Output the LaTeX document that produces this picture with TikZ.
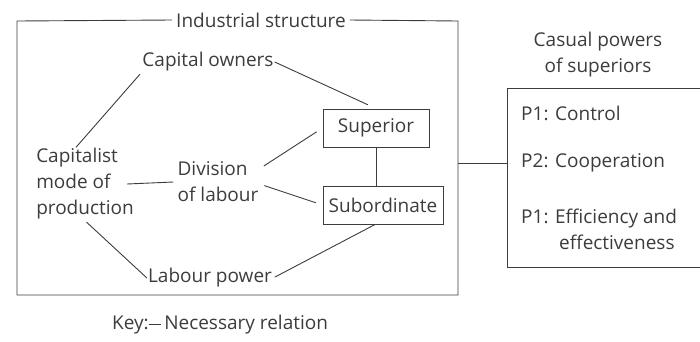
\documentclass[tikz,border=0pt]{standalone}
\usepackage{fontspec}
\setmainfont{Open Sans}
\usetikzlibrary{calc}
\definecolor{ink}{HTML}{3C3C3C}
\begin{document}
\begin{tikzpicture}[x=1pt,y=-1pt,
  every node/.style={text=ink,font=\fontsize{19}{26}\selectfont,inner sep=1pt},
  rel/.style={draw=ink,line width=0.9pt},
  boxed/.style={draw=ink,line width=1pt,inner sep=0pt,minimum height=38pt}]
\useasboundingbox (0,0) rectangle (700,341);
% outer frame of the industrial structure
\node[fill=white,inner xsep=4pt] (title) at (261,20) {Industrial structure};
\coordinate (fl) at (17,21);
\coordinate (fr) at (458,21);
\coordinate (br) at (458,295);
\coordinate (bl) at (17,295);
\draw[rel] (title.west) -- (fl) -- (bl) -- (br) -- (fr) -- (title.east);
% concepts
\node (owners) at (208,62) {Capital owners};
\node[align=left] (capm) at (85,184) {Capitalist\\mode of\\production};
\node[align=left] (div) at (218,182) {Division\\of labour};
\node (labour) at (210,278) {Labour power};
\node[boxed,minimum width=106pt] (sup) at (376,128) {Superior};
\node[boxed,minimum width=120pt] (sub) at (383,205) {Subordinate};
% relations
\draw[rel,shorten <=2pt] (owners.south west) -- ([xshift=-9pt]capm.north);
\draw[rel,shorten >=9pt] (owners.east) -- (sup.north);
\draw[rel] ([xshift=-8pt]capm.east) -- ([xshift=-3pt]div.west);
\draw[rel,shorten <=5pt,shorten >=7pt] ([yshift=-8pt]div.north east) -- (sup.west);
\draw[rel,shorten <=5pt,shorten >=7pt] ([yshift=-2pt]div.east) -- (sub.west);
\draw[rel] (sup.south) -- (sup.south |- sub.north);
\draw[rel,shorten <=2pt] (capm.south) -- (labour.west);
\draw[rel,shorten <=2pt] (labour.east) -- ([xshift=-8pt]sub.south);
% causal powers
\node[align=center] (cp) at (598,55) {Casual powers\\of superiors};
\coordinate (rbl) at (507,267);
\coordinate (rtl) at (507,88);
\draw[rel] (704,88) -- (rtl) -- (rbl) -- (704,267);
\coordinate (fmid) at (458,163);
\draw[rel] (fmid) -- (rtl |- fmid);
\node[anchor=west] (p1) at (520,113) {P1: Control};
\node[anchor=west] (p2) at (520,163) {P2: Cooperation};
\node[anchor=west,align=left] (p3) at (520,229) {P1: Efficiency and\\\hspace{38pt}effectiveness};
% key
\node[anchor=west] (key) at (111,325) {Key:\rule[0.3em]{0.65em}{0.6pt}\,Necessary relation};
\end{tikzpicture}
\end{document}
